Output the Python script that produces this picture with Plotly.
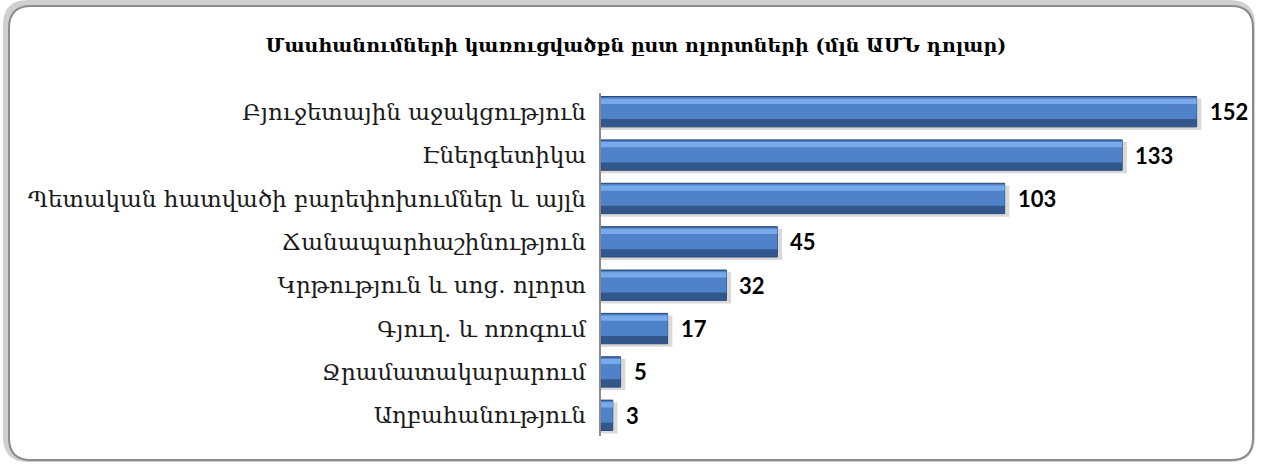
import plotly.graph_objects as go

categories = [
    "Բյուջետային աջակցություն",
    "Էներգետիկա",
    "Պետական հատվածի բարեփոխումներ և այլն",
    "Ճանապարհաշինություն",
    "Կրթություն և սոց. ոլորտ",
    "Գյուղ. և ոռոգում",
    "Ջրամատակարարում",
    "Աղբահանություն",
]
values = [152, 133, 103, 45, 32, 17, 5, 3]
title_text = "Մասհանումների կառուցվածքն ըստ ոլորտների (մլն ԱՄՆ դոլար)"

W, H = 1261, 465
L, R, T, B = 601, 33, 90, 28
pw, ph = W - L - R, H - T - B

def px(x):
    return (x - L) / pw

def py(y):
    return (H - B - y) / ph

fig = go.Figure()
# shadow
fig.add_trace(go.Bar(y=categories, x=[v + 1.2 for v in values], orientation="h",
                     width=0.72, offset=-0.30, marker=dict(color="rgba(0,0,0,0.15)", line_width=0),
                     hoverinfo="skip", showlegend=False))
# dark base
fig.add_trace(go.Bar(y=categories, x=values, orientation="h", width=0.70, offset=-0.35,
                     marker=dict(color="#31578c", line=dict(color="#2a4a78", width=1)),
                     showlegend=False))
# mid
fig.add_trace(go.Bar(y=categories, x=values, orientation="h", width=0.50, offset=-0.33,
                     marker=dict(color="#4f82c8", line_width=0), hoverinfo="skip", showlegend=False))
# highlight
fig.add_trace(go.Bar(y=categories, x=values, orientation="h", width=0.12, offset=-0.30,
                     marker=dict(color="#78a9ea", line_width=0), hoverinfo="skip", showlegend=False))

for c, v in zip(categories, values):
    fig.add_annotation(x=v, y=c, text=f"<b>{v}</b>", showarrow=False, xanchor="left",
                       xshift=11, font=dict(family="Lato, Open Sans, sans-serif", size=22, color="#000"))

# frame
r = 22
x0, x1, y0, y1 = 9, 1253, 6, 460
def frame_path(x0, x1, y0, y1, r):
    return (f"M {px(x0+r)},{py(y0)} L {px(x1-r)},{py(y0)} Q {px(x1)},{py(y0)} {px(x1)},{py(y0+r)} "
            f"L {px(x1)},{py(y1-r)} Q {px(x1)},{py(y1)} {px(x1-r)},{py(y1)} "
            f"L {px(x0+r)},{py(y1)} Q {px(x0)},{py(y1)} {px(x0)},{py(y1-r)} "
            f"L {px(x0)},{py(y0+r)} Q {px(x0)},{py(y0)} {px(x0+r)},{py(y0)} Z")

shapes = [
    dict(type="path", xref="paper", yref="paper", path=frame_path(x0 - 3, x1 - 1, y0 - 3, y1 - 1, r),
         line=dict(color="rgba(120,120,120,0.35)", width=6), layer="below"),
    dict(type="path", xref="paper", yref="paper", path=frame_path(x0, x1, y0, y1, r),
         line=dict(color="#8c8c8c", width=2), fillcolor="white", layer="below"),
    dict(type="line", xref="paper", yref="paper", x0=px(600), x1=px(600), y0=py(93), y1=py(436),
         line=dict(color="#8a8a8a", width=2)),
]

fig.update_layout(
    width=W, height=H,
    margin=dict(l=L, r=R, t=T, b=B),
    paper_bgcolor="white", plot_bgcolor="rgba(0,0,0,0)",
    barmode="overlay",
    title=dict(text="<b>" + title_text + "</b>", x=636 / W, xanchor="center", y=1 - 45 / H,
               yanchor="middle",
               font=dict(family="DejaVu Serif, serif", size=19, color="#000")),
    xaxis=dict(range=[0, 160], visible=False, fixedrange=True),
    yaxis=dict(autorange="reversed", showline=False, showgrid=False, ticks="",
               ticklabelstandoff=14,
               tickfont=dict(family="DejaVu Serif, serif", size=23, color="#1a1a1a")),
    shapes=shapes,
    showlegend=False,
)

fig.write_html("out.html", config={"displayModeBar": False},
               post_script="document.body.style.margin='0';document.body.style.overflow='hidden';")
